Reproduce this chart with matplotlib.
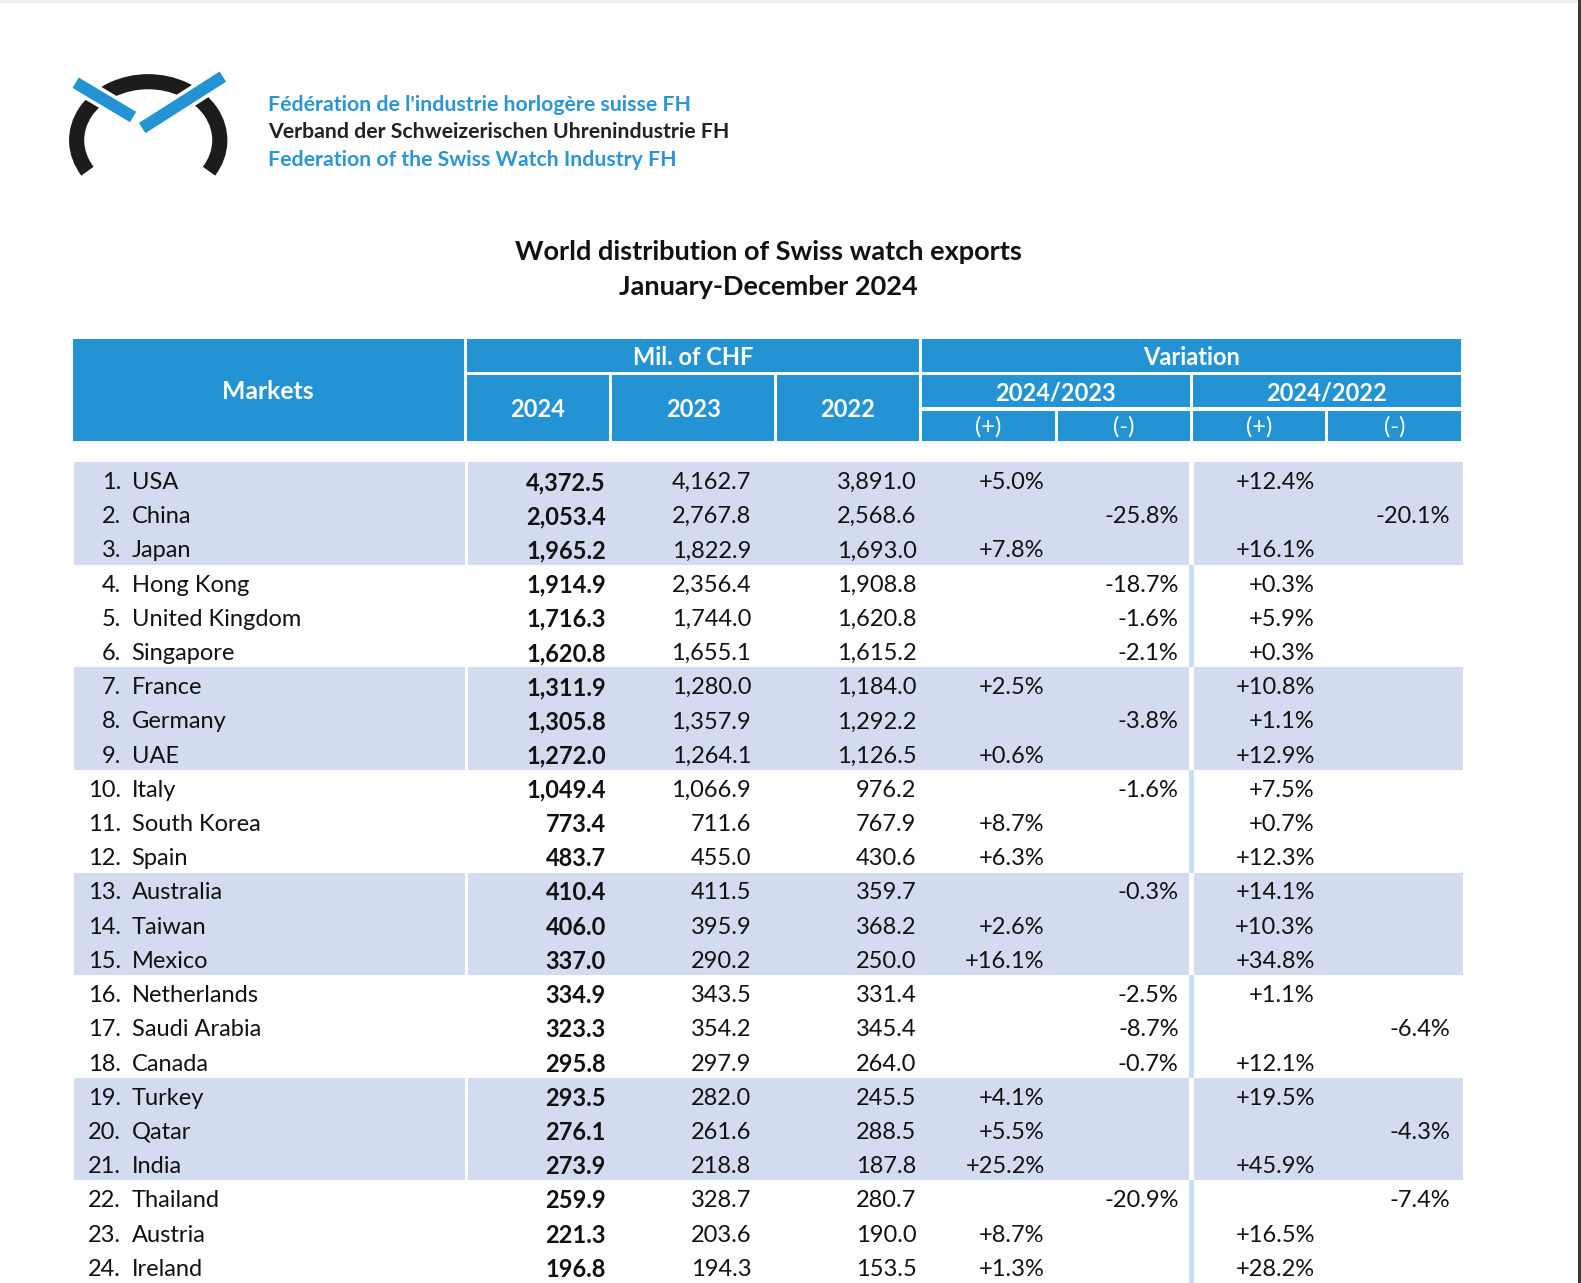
import matplotlib.pyplot as plt
from matplotlib.patches import Rectangle, Arc

# ---- data (Swiss watch exports, mil. CHF) ----
markets = ["USA", "China", "Japan", "Hong Kong", "United Kingdom", "Singapore",
           "France", "Germany", "UAE", "Italy", "South Korea", "Spain",
           "Australia", "Taiwan", "Mexico", "Netherlands", "Saudi Arabia", "Canada",
           "Turkey", "Qatar", "India", "Thailand", "Austria", "Ireland"]
v2024 = [4372.5, 2053.4, 1965.2, 1914.9, 1716.3, 1620.8, 1311.9, 1305.8, 1272.0,
         1049.4, 773.4, 483.7, 410.4, 406.0, 337.0, 334.9, 323.3, 295.8,
         293.5, 276.1, 273.9, 259.9, 221.3, 196.8]
v2023 = [4162.7, 2767.8, 1822.9, 2356.4, 1744.0, 1655.1, 1280.0, 1357.9, 1264.1,
         1066.9, 711.6, 455.0, 411.5, 395.9, 290.2, 343.5, 354.2, 297.9,
         282.0, 261.6, 218.8, 328.7, 203.6, 194.3]
v2022 = [3891.0, 2568.6, 1693.0, 1908.8, 1620.8, 1615.2, 1184.0, 1292.2, 1126.5,
         976.2, 767.9, 430.6, 359.7, 368.2, 250.0, 331.4, 345.4, 264.0,
         245.5, 288.5, 187.8, 280.7, 190.0, 153.5]
var_24_23 = [5.0, -25.8, 7.8, -18.7, -1.6, -2.1, 2.5, -3.8, 0.6, -1.6, 8.7, 6.3,
             -0.3, 2.6, 16.1, -2.5, -8.7, -0.7, 4.1, 5.5, 25.2, -20.9, 8.7, 1.3]
var_24_22 = [12.4, -20.1, 16.1, 0.3, 5.9, 0.3, 10.8, 1.1, 12.9, 7.5, 0.7, 12.3,
             14.1, 10.3, 34.8, 1.1, -6.4, 12.1, 19.5, -4.3, 45.9, -7.4, 16.5, 28.2]

BLUE = "#2393d4"
BAND = "#d3dbf1"
FONT = "Lato"
W, H = 1568, 1272

fig = plt.figure(figsize=(15.81, 12.83), dpi=100)
ax = fig.add_axes([0, 0, 1, 1])
ax.set_xlim(0, W)
ax.set_ylim(H, 0)
ax.axis("off")

PX = 1581 / 1568 * 0.72  # data px -> points


def box(x0, x1, y0, y1, color):
    ax.add_patch(Rectangle((x0, y0), x1 - x0, y1 - y0, color=color, lw=0))


# screenshot edges
box(0, W, 0, 3, "#efefef")
box(W - 3, W, 0, H, "#3a3a3c")

# ---- logo ----
ax.add_patch(Arc((147, 139), 142, 116, theta1=153, theta2=27,
                 color="#1c1c1c", lw=15 * PX, capstyle="butt"))
for (x0, y0), (x1, y1) in [((75, 82), (132, 116)), ((141, 127), (221, 76))]:
    ax.plot([x0, x1], [y0, y1], color="white", lw=19 * PX, solid_capstyle="butt")
    ax.plot([x0, x1], [y0, y1], color=BLUE, lw=12 * PX, solid_capstyle="butt")

logo_kw = dict(fontsize=15.3, family=FONT, weight="bold", va="center")
ax.text(266, 104, "Fédération de l'industrie horlogère suisse FH", color="#2b95d6", **logo_kw)
ax.text(266, 131, "Verband der Schweizerischen Uhrenindustrie FH", color="#222222", **logo_kw)
ax.text(266, 159, "Federation of the Swiss Watch Industry FH", color="#2b95d6", **logo_kw)

# ---- title ----
ax.text(762, 250, "World distribution of Swiss watch exports", fontsize=19.5,
        family=FONT, weight="bold", ha="center", va="center", color="#111111")
ax.text(762, 285, "January-December 2024", fontsize=19.5,
        family=FONT, weight="bold", ha="center", va="center", color="#111111")

# ---- header ----
hdr = [
    (72, 460, 336, 437, "Markets", True, 17.8),
    (463, 911, 336, 369, "Mil. of CHF", True, 17),
    (463, 604, 372, 437, "2024", True, 17),
    (607, 768, 372, 437, "2023", True, 17),
    (771, 911, 372, 437, "2022", True, 17),
    (914, 1449, 336, 369, "Variation", True, 17),
    (914, 1180, 372, 404, "2024/2023", True, 17),
    (1183, 1449, 372, 404, "2024/2022", True, 17),
    (914, 1046, 407, 437, "(+)", False, 17),
    (1049, 1180, 407, 437, "(-)", False, 17),
    (1183, 1314, 407, 437, "(+)", False, 17),
    (1317, 1449, 407, 437, "(-)", False, 17),
]
for x0, x1, y0, y1, label, bold, fs in hdr:
    box(x0, x1, y0, y1, BLUE)
    ax.text((x0 + x1) / 2, (y0 + y1) / 2 + 1.5, label, color="white", fontsize=fs,
            family=FONT, weight="bold" if bold else "normal", ha="center", va="center")

# ---- body ----
TOP, RH = 458, 33.92
n = len(markets)
for g in range(0, n, 3):
    y0 = TOP + g * RH
    y1 = min(y0 + 3 * RH, H)
    if (g // 3) % 2 == 0:
        box(73, 461, y0, y1, BAND)
        box(464, 1179.5, y0, y1, BAND)
        box(1184, 1451, y0, y1, BAND)
    else:
        box(1179.5, 1184, y0, y1, "#c7def3")

cols = [(601, v2024, True), (745, v2023, False), (909, v2022, False)]
for i in range(n):
    yc = TOP + i * RH + 20.3
    kw = dict(fontsize=17, family=FONT, va="center", color="#111111")
    ax.text(101 if i < 9 else 87.5, yc, f"{i + 1}.", ha="left", **kw)
    ax.text(130.5, yc, markets[i], ha="left", **kw)
    for x, vals, bold in cols:
        ax.text(x, yc, f"{vals[i]:,.1f}", ha="right",
                weight="bold" if bold else "normal", **kw)
    a = var_24_23[i]
    ax.text(1036 if a >= 0 else 1169, yc, f"{a:+.1f}%", ha="right", **kw)
    b = var_24_22[i]
    ax.text(1304 if b >= 0 else 1438, yc, f"{b:+.1f}%", ha="right", **kw)

fig.savefig("out.png", dpi=100)
